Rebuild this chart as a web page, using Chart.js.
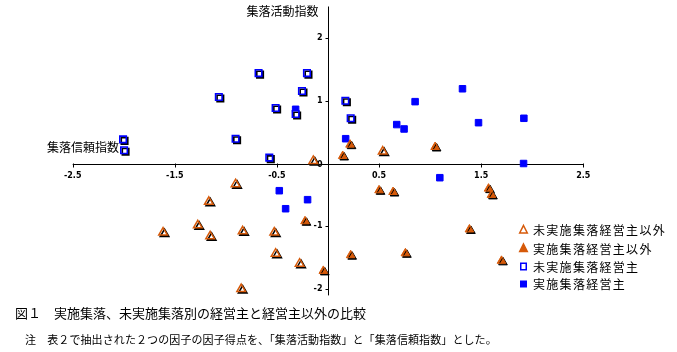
<!DOCTYPE html>
<html><head><meta charset="utf-8">
<script src="https://cdn.jsdelivr.net/npm/chart.js@4/dist/chart.umd.min.js"></script>
<style>html,body{margin:0;padding:0;background:#fff}canvas{display:block}</style>
</head><body>
<canvas id="c" width="677" height="352"></canvas>
<script>
// ---- data (factor scores: x = 集落信頼指数, y = 集落活動指数) ----
const seriesLabels = ['未実施集落経営主以外', '実施集落経営主以外', '未実施集落経営主', '実施集落経営主'];
const openTriangles = [[-0.144,0.04],[0.536,0.19],[-0.905,-0.33],[-1.167,-0.61],[-1.275,-0.985],[-1.615,-1.10],[-1.154,-1.16],[-0.836,-1.08],[-0.526,-1.10],[-0.513,-1.436],[-0.278,-1.595],[-0.85,-2.0]];
const filledTriangles = [[0.216,0.30],[0.144,0.12],[1.049,0.263],[-0.225,-0.92],[-0.046,-1.71],[0.50,-0.427],[0.637,-0.454],[1.572,-0.40],[1.601,-0.50],[1.385,-1.05],[0.222,-1.46],[0.758,-1.43],[1.699,-1.55]];
const openSquares = [[-2.007,0.385],[-1.997,0.21],[-1.069,1.059],[-0.905,0.395],[-0.68,1.44],[-0.513,0.884],[-0.575,0.093],[-0.317,0.788],[-0.255,1.155],[-0.206,1.44],[0.17,1.0],[0.222,0.72]];
const filledSquares = [[-0.317,0.863],[1.317,1.19],[0.853,0.985],[0.673,0.62],[0.745,0.55],[1.474,0.65],[1.918,0.72],[0.173,0.395],[1.915,0.0],[1.095,-0.226],[-0.477,-0.433],[-0.2,-0.576],[-0.415,-0.72]];
const xTicks = [-2.5, -1.5, -0.5, 0.5, 1.5, 2.5];
const yTicks = [-2, -1, 0, 1, 2];
const xAxisTitle = '集落信頼指数';
const yAxisTitle = '集落活動指数';
const figTitle = '図１　実施集落、未実施集落別の経営主と経営主以外の比較';
const figNote = '注　表２で抽出された２つの因子の因子得点を、「集落活動指数」と「集落信頼指数」とした。';

const ORANGE = '#D65A0A';
const BLUE = '#0000FF';
const JP = '"Noto Sans CJK JP", "Noto Sans", sans-serif';

const toPts = a => a.map(p => ({x: p[0], y: p[1]}));

const datasets = [
  {label: seriesLabels[0], data: toPts(openTriangles), pointStyle: 'triangle', pointRadius: 5, backgroundColor: '#FFFFFF', borderColor: ORANGE, borderWidth: 1.5, shadow: true},
  {label: seriesLabels[1], data: toPts(filledTriangles), pointStyle: 'triangle', pointRadius: 5, backgroundColor: ORANGE, borderColor: ORANGE, borderWidth: 1, shadow: true},
  {label: seriesLabels[2], data: toPts(openSquares), pointStyle: 'rect', pointRadius: 4.6, backgroundColor: '#FFFFFF', borderColor: BLUE, borderWidth: 1.6, shadow: true},
  {label: seriesLabels[3], data: toPts(filledSquares), pointStyle: 'rect', pointRadius: 4.6, backgroundColor: BLUE, borderColor: BLUE, borderWidth: 1, shadow: false}
];
datasets.forEach(d => { d.pointHoverRadius = d.pointRadius; d.showLine = false; });

function drawMarker(ctx, kind, x, y) {
  ctx.save();
  ctx.lineWidth = 1.5;
  if (kind === 0 || kind === 1) {
    ctx.beginPath();
    ctx.moveTo(x, y - 4.5); ctx.lineTo(x + 3.8, y + 3); ctx.lineTo(x - 3.8, y + 3); ctx.closePath();
    ctx.fillStyle = kind === 0 ? '#FFFFFF' : ORANGE; ctx.strokeStyle = ORANGE;
    ctx.fill(); ctx.stroke();
  } else {
    ctx.fillStyle = kind === 2 ? '#FFFFFF' : BLUE; ctx.strokeStyle = BLUE;
    if (kind === 2) { ctx.fillRect(x - 3, y - 3.5, 6, 7); ctx.strokeRect(x - 2.75, y - 3.25, 5.5, 6.5); }
    else { ctx.fillRect(x - 3.5, y - 3.5, 7, 7); }
  }
  ctx.restore();
}

const axesPlugin = {
  id: 'customAxes',
  beforeDatasetsDraw(chart) {
    const ctx = chart.ctx, xs = chart.scales.x, ys = chart.scales.y;
    const y0 = Math.round(ys.getPixelForValue(0)) + 0.5;
    const x0 = Math.round(xs.getPixelForValue(0)) + 0.5;
    ctx.save();
    ctx.strokeStyle = '#000'; ctx.lineWidth = 1;
    ctx.beginPath();
    ctx.moveTo(xs.left, y0); ctx.lineTo(xs.right, y0);
    ctx.moveTo(x0, ys.top); ctx.lineTo(x0, ys.bottom);
    xTicks.forEach(v => { const px = Math.round(xs.getPixelForValue(v)) + 0.5; ctx.moveTo(px, y0 - 1); ctx.lineTo(px, y0 + 3); });
    yTicks.forEach(v => { if (v === 0) return; const py = Math.round(ys.getPixelForValue(v)) + 0.5; ctx.moveTo(x0 - 3, py); ctx.lineTo(x0, py); });
    ctx.stroke();
    ctx.fillStyle = '#000';
    ctx.font = 'bold 8px "DejaVu Sans", sans-serif';
    ctx.textAlign = 'center'; ctx.textBaseline = 'middle';
    xTicks.forEach(v => ctx.fillText(String(v), xs.getPixelForValue(v), y0 + 11));
    ctx.textAlign = 'right';
    yTicks.forEach(v => ctx.fillText(String(v), x0 - 6, ys.getPixelForValue(v) + (v === 0 ? 1 : 0)));
    // axis titles
    ctx.font = '12px ' + JP;
    ctx.textAlign = 'right';
    ctx.fillText(yAxisTitle, x0 - 10, 11);
    ctx.textAlign = 'left';
    ctx.fillText(xAxisTitle, 47, 147.5);
    ctx.restore();
  },
  beforeDatasetDraw(chart, args) {
    const ds = chart.data.datasets[args.index];
    const ctx = chart.ctx;
    ctx.save();
    if (ds.shadow) {
      ctx.shadowColor = '#000000';
      ctx.shadowOffsetX = 1.5; ctx.shadowOffsetY = 1.5; ctx.shadowBlur = 0;
    }
  },
  afterDatasetDraw(chart) { chart.ctx.restore(); },
  afterDraw(chart) {
    const ctx = chart.ctx;
    ctx.save();
    // legend
    const rows = [230, 248.5, 266.5, 284];
    ctx.font = '12px ' + JP;
    ctx.fillStyle = '#000'; ctx.textAlign = 'left'; ctx.textBaseline = 'middle';
    if ('letterSpacing' in ctx) ctx.letterSpacing = '1.3px';
    chart.data.datasets.forEach((d, i) => {
      drawMarker(ctx, i, 523.5, rows[i]);
      ctx.fillStyle = '#000';
      ctx.fillText(d.label, 533, rows[i] + 0.5);
    });
    if ('letterSpacing' in ctx) ctx.letterSpacing = '0px';
    // figure caption
    ctx.font = '13px ' + JP;
    ctx.fillText(figTitle, 15, 313.5);
    ctx.font = '11px ' + JP;
    if ('letterSpacing' in ctx) ctx.letterSpacing = '0.1px';
    ctx.fillText(figNote, 25, 339.5);
    ctx.restore();
  }
};

new Chart(document.getElementById('c'), {
  type: 'scatter',
  data: {datasets},
  options: {
    responsive: false,
    animation: false,
    events: [],
    layout: {padding: {left: 72.7, right: 93.7, top: 6.5, bottom: 56.6}},
    plugins: {legend: {display: false}, tooltip: {enabled: false}, title: {display: false}},
    scales: {
      x: {type: 'linear', min: -2.5, max: 2.5, display: false},
      y: {type: 'linear', min: -2.1, max: 2.5, display: false}
    }
  },
  plugins: [axesPlugin]
});
</script>
</body></html>
